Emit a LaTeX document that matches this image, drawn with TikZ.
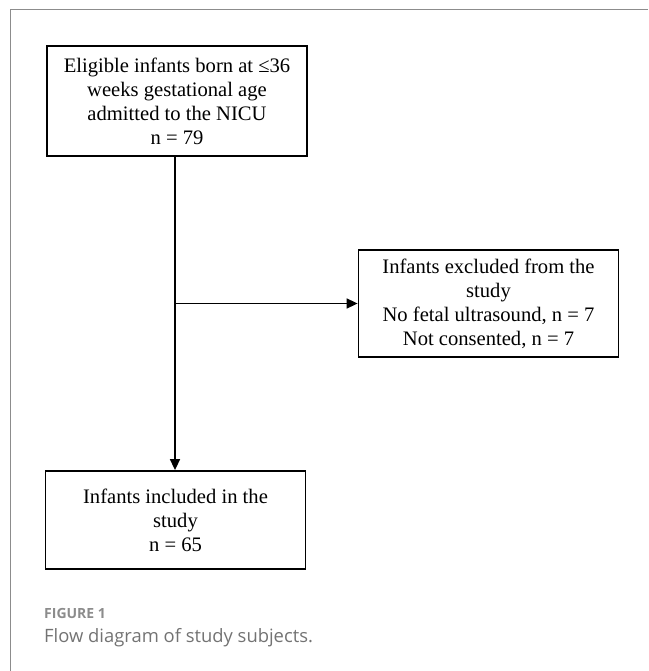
\documentclass[tikz,border=0pt]{standalone}
\usepackage{fontspec}
\setmainfont{Liberation Serif}
\newfontfamily\capfont{Open Sans}
\usetikzlibrary{positioning, arrows.meta, calc}
\definecolor{framegray}{RGB}{140,140,140}
\definecolor{capgray}{RGB}{115,115,115}

\begin{document}
\begin{tikzpicture}[x=1pt, y=-1pt,
    flowbox/.style={draw, line width=1.8pt, align=center, minimum width=260pt, inner sep=4pt, font=\fontsize{20.6}{24}\selectfont},
    flowarrow/.style={line width=1.6pt, -{Triangle[length=11pt,width=10pt]}}]
  \useasboundingbox (0,0) rectangle (648,671);
  % frame
  \draw[framegray, line width=1pt] (10,671) -- (10,10) -- (648,10);
  % boxes
  \node[flowbox, minimum height=110pt] (eligible) at (177,101)
    {Eligible infants born at ≤36\\ weeks gestational age\\ admitted to the NICU\\ n = 79};
  \node[flowbox, minimum height=107pt] (excluded) at (488.5,303.5)
    {Infants excluded from the\\ study\\ No fetal ultrasound, n = 7\\ Not consented, n = 7};
  \node[flowbox, minimum height=98pt] (included) at (175.5,520)
    {Infants included in the\\ study\\ n = 65};
  % arrows
  \coordinate (split) at (175,303.5);
  \draw[flowarrow] (eligible.south -| split) -- (included.north -| split);
  \draw[flowarrow] (split) -- (excluded.west);
  % caption
  \node[anchor=base west, inner sep=0, text=framegray, font=\capfont\bfseries\fontsize{14}{16}\selectfont] (figlabel) at (44,618) {FIGURE 1};
  \node[anchor=base west, inner sep=0, text=capgray, font=\capfont\fontsize{18.4}{20}\selectfont] (figcaption) at (44,642) {Flow diagram of study subjects.};
\end{tikzpicture}
\end{document}
